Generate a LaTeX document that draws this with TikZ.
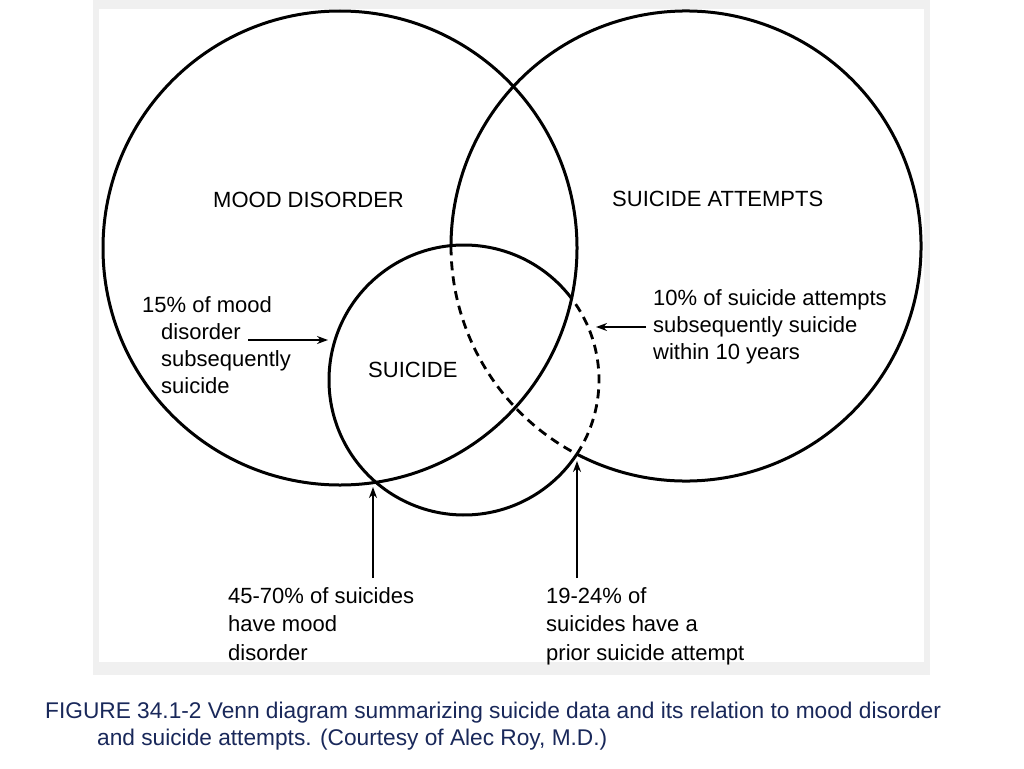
\documentclass[tikz,border=0pt]{standalone}
\usepackage{fontspec}
\setmainfont{Liberation Sans}
\definecolor{capblue}{RGB}{25,40,90}
\usetikzlibrary{arrows.meta}

\begin{document}
\begin{tikzpicture}
[x=1pt,y=-1pt,%
  every node/.style={inner sep=0pt,align=left,anchor=north west,%
    font=\fontsize{22}{27}\selectfont},%
  circ/.style={line width=3pt},%
  hidden/.style={line width=2.8pt,dash pattern=on 9pt off 6pt},%
  pointer/.style={-{Stealth[length=11pt,width=8pt]},line width=2pt}]
\useasboundingbox (0,0) rectangle (1024,768);
\fill[white] (0,0) rectangle (1024,768);
\fill[black!6] (93,0) rectangle (930,675);
\fill[white] (99,9) rectangle (924,662);

% circles
\draw[circ] (340,248) circle (237pt);
\draw[circ] (686,246) ++(242.4:235pt) arc[start angle=242.4,end angle=540.1,radius=235pt];
\draw[hidden] (686,246) ++(180.1:235pt) arc[start angle=180.1,end angle=242.4,radius=235pt];
\draw[circ] (464,380) ++(37.2:135pt) arc[start angle=37.2,end angle=326.7,radius=135pt];
\draw[hidden] (464,380) ++(-33.3:135pt) arc[start angle=-33.3,end angle=37.2,radius=135pt];

\node (mood) at (213,192) {MOOD DISORDER};
\node (attempts) at (612,191) {SUICIDE ATTEMPTS};
\node (suicide) at (368,362) {SUICIDE};

\node (moodnote) at (142,296) {15\% of mood\\\hspace*{19pt}disorder\\\hspace*{19pt}subsequently\\\hspace*{19pt}suicide};
\node (attnote) at (653,289) {10\% of suicide attempts\\subsequently suicide\\within 10 years};
\node[font=\fontsize{22}{28.5}\selectfont] (bothnote) at (228,587) {45-70\% of suicides\\have mood\\disorder};
\node[font=\fontsize{22}{28.5}\selectfont] (priornote) at (546,587) {19-24\% of\\suicides have a\\prior suicide attempt};

\coordinate (m1) at (248,340);
\coordinate (m2) at (328,340);
\coordinate (a1) at (646,327);
\coordinate (a2) at (596,327);
\coordinate (b1) at (373,578);
\coordinate (b2) at (373,487);
\coordinate (p1) at (577,578);
\coordinate (p2) at (577,461);
\draw[pointer] (m1) -- (m2);
\draw[pointer] (a1) -- (a2);
\draw[pointer] (b1) -- (b2);
\draw[pointer] (p1) -- (p2);

\node[capblue,font=\fontsize{22.7}{27}\selectfont] (caption) at (45,702)
  {FIGURE 34.1-2 Venn diagram summarizing suicide data and its relation to mood disorder\\\hspace*{52pt}and suicide attempts. (Courtesy of Alec Roy, M.D.)};
\end{tikzpicture}
\end{document}
